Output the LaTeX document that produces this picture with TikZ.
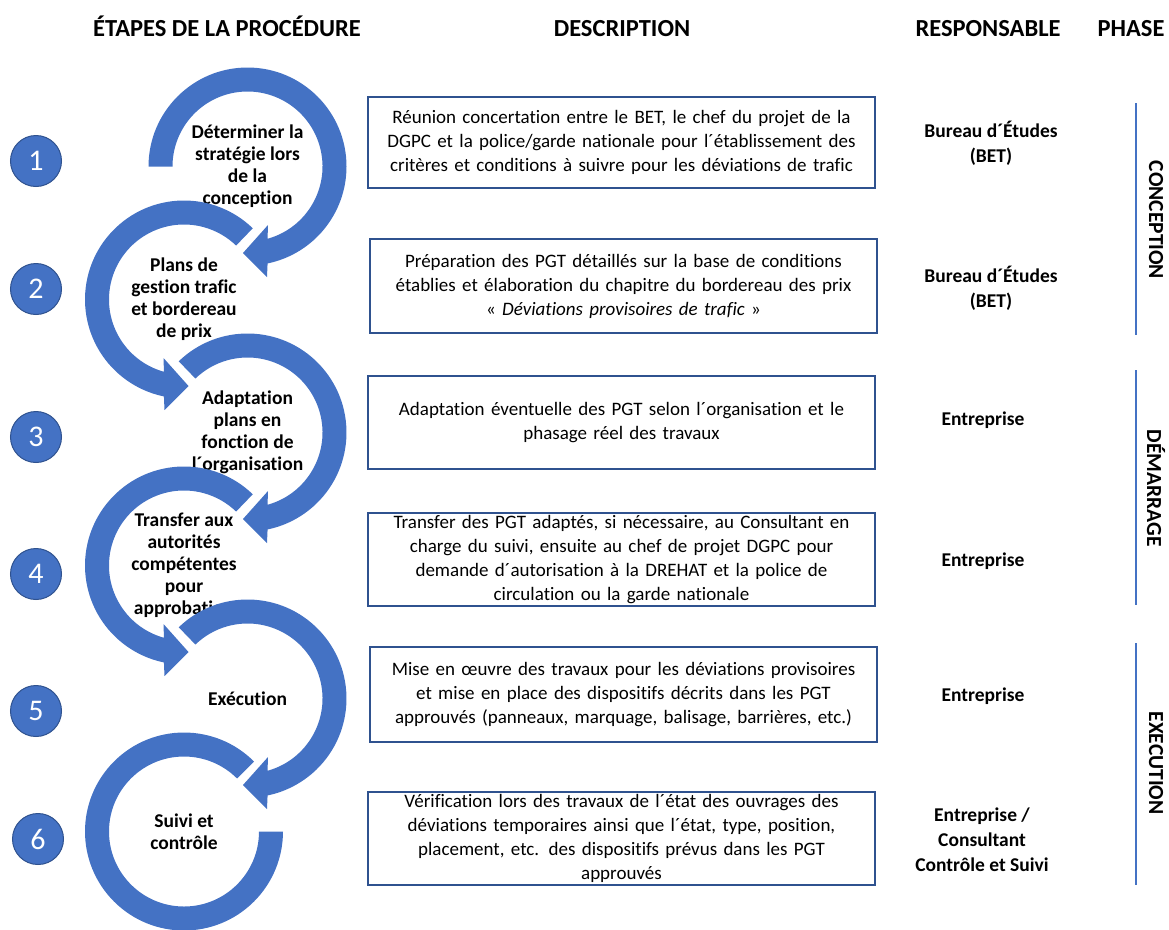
\documentclass[tikz,border=0pt]{standalone}
\usepackage{fontspec}
\setmainfont{Carlito}[Ligatures={NoCommon,NoContextual}]
\usetikzlibrary{positioning,calc,math}

\definecolor{stepblue}{RGB}{68,114,196}
\definecolor{edgeblue}{RGB}{47,82,143}

\tikzset{
    % curved arrow of one step, #1 = angle where the band starts
    cyclearrow/.pic={
        \fill[stepblue] (#1:\ro) arc[start angle=#1, end angle=-78.3, radius=\ro]
            -- (19.5,-110.5) -- (-4.5,-86.5) -- (20.5,-58.5)
            -- (-74.5:\ri) arc[start angle=-74.5, end angle=#1, radius=\ri] -- cycle;
    },
    stepnum/.style={circle, fill=stepblue, draw=edgeblue, line width=1pt,
        minimum size=51pt, inner sep=0pt, text=white, font=\fontsize{30}{30}\selectfont},
    steptext/.style={align=center, font=\bfseries\fontsize{19.5}{22}\selectfont},
    descbox/.style={draw=edgeblue, line width=1.2pt, minimum width=507pt,
        text width=500pt, align=center, inner sep=0pt, font=\fontsize{19}{24}\selectfont},
    resptext/.style={align=center, font=\bfseries\fontsize{19.5}{25}\selectfont},
    headtext/.style={anchor=base, font=\bfseries\fontsize{24.5}{24.5}\selectfont},
    phasetext/.style={rotate=-90, font=\bfseries\fontsize{21.5}{21.5}\selectfont},
    phaseline/.style={draw=stepblue, line width=2.5pt},
}

\begin{document}
\begin{tikzpicture}[x=1pt, y=1pt]

  \tikzmath{
    \ro = 99; % outer radius of the arrow bands
    \ri = 75; % inner radius of the arrow bands
  }

  \useasboundingbox (0,0) rectangle (1169,-929);

  % centres of the six rings
  \coordinate (c1) at (247.5,-166.5);
  \coordinate (c2) at (184,-299.5);
  \coordinate (c3) at (247.5,-432.5);
  \coordinate (c4) at (184,-565.5);
  \coordinate (c5) at (247.5,-698.5);
  \coordinate (c6) at (184,-831.5);

  % -------
  % Headers
  % -------
  \node[headtext] (hsteps) at (227,-36) {ÉTAPES DE LA PROCÉDURE};
  \node[headtext] (hdesc)  at (622,-36) {DESCRIPTION};
  \node[headtext] (hresp)  at (988,-36) {RESPONSABLE};
  \node[headtext] (hphase) at (1131,-36) {PHASE};

  % ---------------
  % Cycle of arrows
  % ---------------
  \pic at (c1) {cyclearrow=180};
  \node[steptext] (s1) at (c1) {Déterminer la\\stratégie lors\\de la\\conception};

  \pic[xscale=-1] at (c2) {cyclearrow=134};
  \node[steptext] (s2) at (c2) {Plans de\\gestion trafic\\et bordereau\\de prix};

  \pic at (c3) {cyclearrow=134};
  \node[steptext] (s3) at (c3) {Adaptation\\plans en\\fonction de\\l´organisation};

  \pic[xscale=-1] at (c4) {cyclearrow=134};
  \node[steptext] (s4) at (c4) {Transfer aux\\autorités\\compétentes\\pour\\approbation};

  \pic at (c5) {cyclearrow=134};
  \node[steptext] (s5) at (c5) {Exécution};

  % last ring has no arrow head
  \fill[stepblue] ($(c6)+(45:\ro)$) arc[start angle=45, end angle=360, radius=\ro]
    -- ($(c6)+(0:\ri)$) arc[start angle=360, end angle=45, radius=\ri] -- cycle;
  \node[steptext] (s6) at (c6) {Suivi et\\contrôle};

  % step numbers
  \node[stepnum] (n1) at (36,-161) {1};
  \node[stepnum] (n2) at (36,-289) {2};
  \node[stepnum] (n3) at (36,-437) {3};
  \node[stepnum] (n4) at (36,-574) {4};
  \node[stepnum] (n5) at (36,-711) {5};
  \node[stepnum] (n6) at (38,-839) {6};

  % ------------
  % Descriptions
  % ------------
  \node[descbox, minimum height=91pt] (d1) at (621.5,-142.5)
    {Réunion concertation entre le BET, le chef du projet de la\\DGPC et la police/garde nationale pour l´établissement des\\critères et conditions à suivre pour les déviations de trafic};
  \node[descbox, minimum height=94pt] (d2) at (623.5,-286)
    {Préparation des PGT détaillés sur la base de conditions\\établies et élaboration du chapitre du bordereau des prix\\« \textit{Déviations provisoires de trafic} »};
  \node[descbox, minimum height=93pt] (d3) at (621.5,-422.5)
    {Adaptation éventuelle des PGT selon l´organisation et le\\phasage réel des travaux};
  \node[descbox, minimum height=93pt] (d4) at (621.5,-559.5)
    {Transfer des PGT adaptés, si nécessaire, au Consultant en\\charge du suivi, ensuite au chef de projet DGPC pour\\demande d´autorisation à la DREHAT et la police de\\circulation ou la garde nationale};
  \node[descbox, minimum height=95pt] (d5) at (623.5,-694.5)
    {Mise en œuvre des travaux pour les déviations provisoires\\et mise en place des dispositifs décrits dans les PGT\\approuvés (panneaux, marquage, balisage, barrières, etc.)};
  \node[descbox, minimum height=93pt] (d6) at (621.5,-838.5)
    {Vérification lors des travaux de l´état des ouvrages des\\déviations temporaires ainsi que l´état, type, position,\\placement, etc. des dispositifs prévus dans les PGT\\approuvés};

  % ------------
  % Responsables
  % ------------
  \node[resptext] (r1) at (991,-143) {Bureau d´Études\\(BET)};
  \node[resptext] (r2) at (991,-288) {Bureau d´Études\\(BET)};
  \node[resptext] (r3) at (983,-420) {Entreprise};
  \node[resptext] (r4) at (983,-561) {Entreprise};
  \node[resptext] (r5) at (983,-696) {Entreprise};
  \node[resptext] (r6) at (982,-840) {Entreprise /\\Consultant\\Contrôle et Suivi};

  % ------
  % Phases
  % ------
  \draw[phaseline] (1136,-103) -- (1136,-335);
  \draw[phaseline] (1136,-370) -- (1136,-605);
  \draw[phaseline] (1136,-643) -- (1136,-885);
  \node[phasetext] (p1) at (1156,-220) {CONCEPTION};
  \node[phasetext] (p2) at (1156,-488) {DÉMARRAGE};
  \node[phasetext] (p3) at (1156,-763) {EXECUTION};

\end{tikzpicture}
\end{document}
